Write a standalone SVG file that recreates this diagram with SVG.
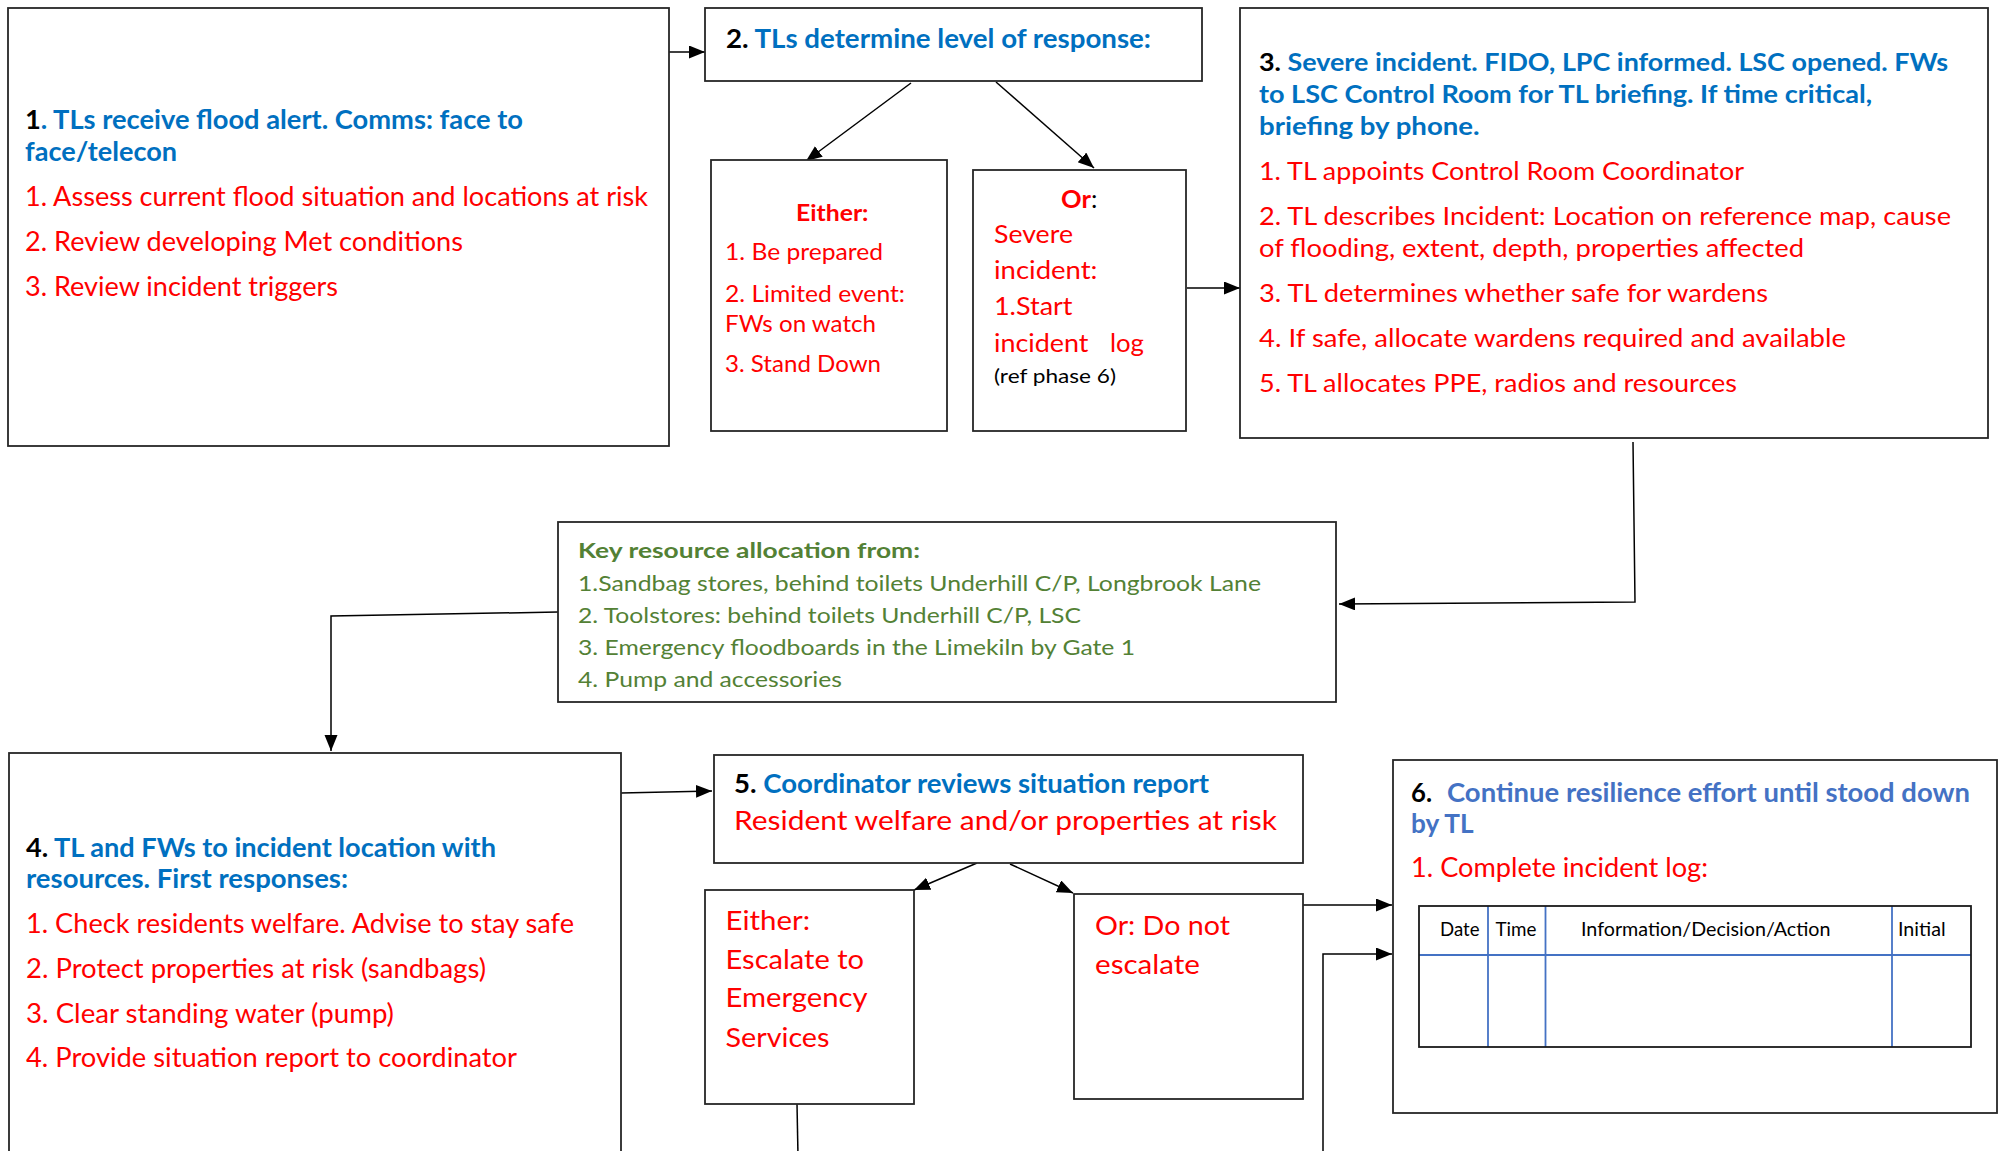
<svg xmlns="http://www.w3.org/2000/svg" width="1999" height="1151" viewBox="0 0 1999 1151">
<style>
.box{fill:#fff;stroke:#262626;stroke-width:1.8}
text{font-family:Lato,"Open Sans","Liberation Sans",sans-serif}
.b{font-weight:bold}
.blue{fill:#0070C0}
.blue2{fill:#4472C4}
.red{fill:#FF0000}
.green{fill:#538135}
.blk{fill:#000}
.s26{font-size:26px}
.s25{font-size:25.5px}
.s23{font-size:23.5px}
.s21{font-size:21.5px}
.s27{font-size:27.5px}
.s20{font-size:20px}
.s19{font-size:19.5px}
.ln{fill:none;stroke:#000;stroke-width:1.5}
.grid{stroke:#4472C4;stroke-width:1.8}
</style>
<defs>
<marker id="ah" markerUnits="userSpaceOnUse" markerWidth="17" markerHeight="14" refX="16" refY="6.5" orient="auto">
<path d="M0,0 L16,6.5 L0,13 z" fill="#000"/>
</marker>
</defs>
<rect width="1999" height="1151" fill="#fff"/>

<g id="connectors">
<line class="ln" x1="669" y1="52" x2="705" y2="52" marker-end="url(#ah)"/>
<line class="ln" x1="911" y1="83" x2="806" y2="161" marker-end="url(#ah)"/>
<line class="ln" x1="996" y1="82" x2="1094" y2="168" marker-end="url(#ah)"/>
<line class="ln" x1="1187" y1="288" x2="1240" y2="288" marker-end="url(#ah)"/>
<polyline class="ln" points="1633,442 1635,602 1339,604" marker-end="url(#ah)"/>
<polyline class="ln" points="558,612 331,616 331,751" marker-end="url(#ah)"/>
<line class="ln" x1="621" y1="793" x2="712" y2="791" marker-end="url(#ah)"/>
<line class="ln" x1="977" y1="863" x2="914" y2="890" marker-end="url(#ah)"/>
<line class="ln" x1="1010" y1="864" x2="1073" y2="893" marker-end="url(#ah)"/>
<line class="ln" x1="797" y1="1104" x2="798" y2="1156"/>
<line class="ln" x1="1303" y1="905" x2="1392" y2="905" marker-end="url(#ah)"/>
<polyline class="ln" points="1323,1156 1323,954 1392,954" marker-end="url(#ah)"/>
</g>

<g id="node1">
<rect class="box" x="8" y="8" width="661" height="438"/>
<text class="b s26" x="25" y="129" textLength="498" lengthAdjust="spacingAndGlyphs"><tspan class="blk">1</tspan><tspan class="blue">. TLs receive flood alert. Comms: face to</tspan></text>
<text class="b s26 blue" x="25" y="161" textLength="152" lengthAdjust="spacingAndGlyphs">face/telecon</text>
<text class="s26 red" x="25" y="205.5" textLength="623" lengthAdjust="spacingAndGlyphs">1. Assess current flood situation and locations at risk</text>
<text class="s26 red" x="25" y="250.5" textLength="438" lengthAdjust="spacingAndGlyphs">2. Review developing Met conditions</text>
<text class="s26 red" x="25" y="295.5" textLength="313" lengthAdjust="spacingAndGlyphs">3. Review incident triggers</text>
</g>

<g id="node2">
<rect class="box" x="705" y="8" width="497" height="73"/>
<text class="b s26" x="726" y="48" textLength="425" lengthAdjust="spacingAndGlyphs"><tspan class="blk">2.</tspan><tspan class="blue"> TLs determine level of response:</tspan></text>
</g>

<g id="node2a">
<rect class="box" x="711" y="160" width="236" height="271"/>
<text class="b s23 red" x="796" y="221" textLength="72.5" lengthAdjust="spacingAndGlyphs">Either:</text>
<text class="s23 red" x="725" y="260" textLength="158" lengthAdjust="spacingAndGlyphs">1. Be prepared</text>
<text class="s23 red" x="725" y="302" textLength="180" lengthAdjust="spacingAndGlyphs">2. Limited event:</text>
<text class="s23 red" x="725" y="332" textLength="151" lengthAdjust="spacingAndGlyphs">FWs on watch</text>
<text class="s23 red" x="725" y="372" textLength="156" lengthAdjust="spacingAndGlyphs">3. Stand Down</text>
</g>

<g id="node2b">
<rect class="box" x="973" y="170" width="213" height="261"/>
<text class="s25" x="1061" y="208"><tspan class="b red">Or</tspan><tspan class="blk">:</tspan></text>
<text class="s25 red" x="994" y="243" textLength="79" lengthAdjust="spacingAndGlyphs">Severe</text>
<text class="s25 red" x="994" y="279" textLength="103.5" lengthAdjust="spacingAndGlyphs">incident:</text>
<text class="s25 red" x="994" y="315" textLength="78.5" lengthAdjust="spacingAndGlyphs">1.Start</text>
<text class="s25 red" x="994" y="352" textLength="94.5" lengthAdjust="spacingAndGlyphs">incident</text>
<text class="s25 red" x="1110" y="352" textLength="34" lengthAdjust="spacingAndGlyphs">log</text>
<text class="s20 blk" x="994" y="383" textLength="122" lengthAdjust="spacingAndGlyphs">(ref phase 6)</text>
</g>

<g id="node3">
<rect class="box" x="1240" y="8" width="748" height="430"/>
<text class="b s25" x="1259" y="71" textLength="689" lengthAdjust="spacingAndGlyphs"><tspan class="blk">3.</tspan><tspan class="blue"> Severe incident. FIDO, LPC informed. LSC opened. FWs</tspan></text>
<text class="b s25 blue" x="1259" y="103" textLength="613" lengthAdjust="spacingAndGlyphs">to LSC Control Room for TL briefing. If time critical,</text>
<text class="b s25 blue" x="1259" y="134.5" textLength="220.6" lengthAdjust="spacingAndGlyphs">briefing by phone.</text>
<text class="s25 red" x="1259" y="180" textLength="485" lengthAdjust="spacingAndGlyphs">1. TL appoints Control Room Coordinator</text>
<text class="s25 red" x="1259" y="225" textLength="692" lengthAdjust="spacingAndGlyphs">2. TL describes Incident: Location on reference map, cause</text>
<text class="s25 red" x="1259" y="257" textLength="545" lengthAdjust="spacingAndGlyphs">of flooding, extent, depth, properties affected</text>
<text class="s25 red" x="1259" y="301.5" textLength="509" lengthAdjust="spacingAndGlyphs">3. TL determines whether safe for wardens</text>
<text class="s25 red" x="1259" y="346.5" textLength="587" lengthAdjust="spacingAndGlyphs">4. If safe, allocate wardens required and available</text>
<text class="s25 red" x="1259" y="391.5" textLength="478" lengthAdjust="spacingAndGlyphs">5. TL allocates PPE, radios and resources</text>
</g>

<g id="node-resources">
<rect class="box" x="558" y="522" width="778" height="180"/>
<text class="b s21 green" x="578" y="558" textLength="342" lengthAdjust="spacingAndGlyphs">Key resource allocation from:</text>
<text class="s21 green" x="578" y="591" textLength="683" lengthAdjust="spacingAndGlyphs">1.Sandbag stores, behind toilets Underhill C/P, Longbrook Lane</text>
<text class="s21 green" x="578" y="623" textLength="503" lengthAdjust="spacingAndGlyphs">2. Toolstores: behind toilets Underhill C/P, LSC</text>
<text class="s21 green" x="578" y="655" textLength="557" lengthAdjust="spacingAndGlyphs">3. Emergency floodboards in the Limekiln by Gate 1</text>
<text class="s21 green" x="578" y="687" textLength="264" lengthAdjust="spacingAndGlyphs">4. Pump and accessories</text>
</g>

<g id="node4">
<rect class="box" x="9" y="753" width="612" height="420"/>
<text class="b s26" x="26" y="857" textLength="470" lengthAdjust="spacingAndGlyphs"><tspan class="blk">4.</tspan><tspan class="blue"> TL and FWs to incident location with</tspan></text>
<text class="b s26 blue" x="26" y="888" textLength="322" lengthAdjust="spacingAndGlyphs">resources. First responses:</text>
<text class="s26 red" x="26" y="933" textLength="548" lengthAdjust="spacingAndGlyphs">1. Check residents welfare. Advise to stay safe</text>
<text class="s26 red" x="26" y="978" textLength="460" lengthAdjust="spacingAndGlyphs">2. Protect properties at risk (sandbags)</text>
<text class="s26 red" x="26" y="1023" textLength="368" lengthAdjust="spacingAndGlyphs">3. Clear standing water (pump)</text>
<text class="s26 red" x="26" y="1067" textLength="491" lengthAdjust="spacingAndGlyphs">4. Provide situation report to coordinator</text>
</g>

<g id="node5">
<rect class="box" x="714" y="755" width="589" height="108"/>
<text class="b s26" x="734" y="793" textLength="475" lengthAdjust="spacingAndGlyphs"><tspan class="blk">5.</tspan><tspan class="blue"> Coordinator reviews situation report</tspan></text>
<text class="s27 red" x="734" y="830" textLength="543" lengthAdjust="spacingAndGlyphs">Resident welfare and/or properties at risk</text>
</g>

<g id="node5a">
<rect class="box" x="705" y="890" width="209" height="214"/>
<text class="s27 red" x="725.5" y="930" textLength="84.5" lengthAdjust="spacingAndGlyphs">Either:</text>
<text class="s27 red" x="725.5" y="969" textLength="138.5" lengthAdjust="spacingAndGlyphs">Escalate to</text>
<text class="s27 red" x="725.5" y="1007" textLength="142" lengthAdjust="spacingAndGlyphs">Emergency</text>
<text class="s27 red" x="725.5" y="1047" textLength="104" lengthAdjust="spacingAndGlyphs">Services</text>
</g>

<g id="node5b">
<rect class="box" x="1074" y="894" width="229" height="205"/>
<text class="s27 red" x="1095" y="935" textLength="135" lengthAdjust="spacingAndGlyphs">Or: Do not</text>
<text class="s27 red" x="1095" y="974" textLength="105" lengthAdjust="spacingAndGlyphs">escalate</text>
</g>

<g id="node6">
<rect class="box" x="1393" y="760" width="604" height="353"/>
<text class="b s26 blk" x="1411" y="802" textLength="21" lengthAdjust="spacingAndGlyphs">6.</text>
<text class="b s26 blue2" x="1447" y="802" textLength="523" lengthAdjust="spacingAndGlyphs">Continue resilience effort until stood down</text>
<text class="b s26 blue2" x="1411" y="833" textLength="62.5" lengthAdjust="spacingAndGlyphs">by TL</text>
<text class="s26 red" x="1411" y="877" textLength="297" lengthAdjust="spacingAndGlyphs">1. Complete incident log:</text>
<g id="log-table">
<line class="grid" x1="1419" y1="955" x2="1971" y2="955"/>
<line class="grid" x1="1488" y1="906" x2="1488" y2="1047"/>
<line class="grid" x1="1545.5" y1="906" x2="1545.5" y2="1047"/>
<line class="grid" x1="1892" y1="906" x2="1892" y2="1047"/>
<rect x="1419" y="906" width="552" height="141" fill="none" stroke="#1a1a1a" stroke-width="1.8"/>
<text class="s19 blk" x="1440" y="936" textLength="39.5" lengthAdjust="spacingAndGlyphs">Date</text>
<text class="s19 blk" x="1495.5" y="936" textLength="41" lengthAdjust="spacingAndGlyphs">Time</text>
<text class="s19 blk" x="1581" y="936" textLength="249.5" lengthAdjust="spacingAndGlyphs">Information/Decision/Action</text>
<text class="s19 blk" x="1898" y="936" textLength="47.6" lengthAdjust="spacingAndGlyphs">Initial</text>
</g>
</g>
</svg>
